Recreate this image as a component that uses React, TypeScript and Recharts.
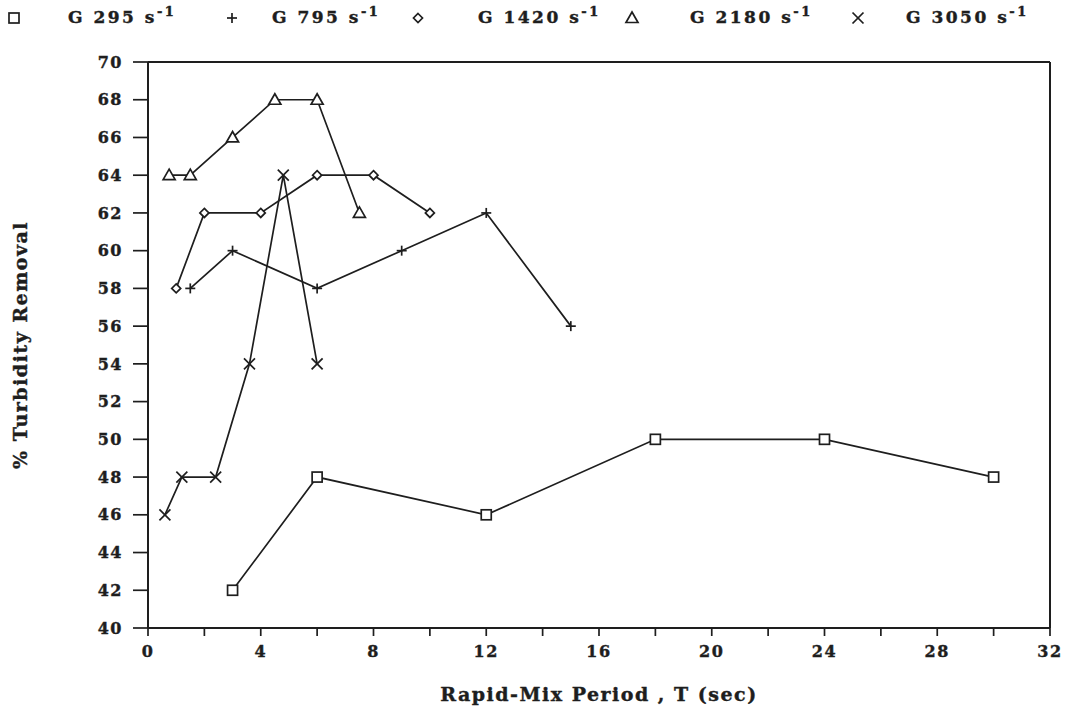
import React from 'react';
import { LineChart, Line, XAxis, YAxis, ReferenceLine } from 'recharts';

const T_295 = [3, 6, 12, 18, 24, 30];
const V_295 = [42, 48, 46, 50, 50, 48];
const T_795 = [1.5, 3, 6, 9, 12, 15];
const V_795 = [58, 60, 58, 60, 62, 56];
const T_1420 = [1, 2, 4, 6, 8, 10];
const V_1420 = [58, 62, 62, 64, 64, 62];
const T_2180 = [0.75, 1.5, 3, 4.5, 6, 7.5];
const V_2180 = [64, 64, 66, 68, 68, 62];
const T_3050 = [0.6, 1.2, 2.4, 3.6, 4.8, 6];
const V_3050 = [46, 48, 48, 54, 64, 54];

const X_TICKS = [0, 2, 4, 6, 8, 10, 12, 14, 16, 18, 20, 22, 24, 26, 28, 30, 32];
const Y_TICKS = [40, 42, 44, 46, 48, 50, 52, 54, 56, 58, 60, 62, 64, 66, 68, 70];
const LEGEND_LABELS = ['G 295', 'G 795', 'G 1420', 'G 2180', 'G 3050'];

const zip = (t: number[], v: number[]) => t.map((x, i) => ({ x, y: v[i] }));
const D_295 = zip(T_295, V_295);
const D_795 = zip(T_795, V_795);
const D_1420 = zip(T_1420, V_1420);
const D_2180 = zip(T_2180, V_2180);
const D_3050 = zip(T_3050, V_3050);

const INK = '#1e1e1e';
const FONT = '"DejaVu Serif", serif';

type ShapeKind = 'square' | 'plus' | 'diamond' | 'triangle' | 'cross';

const Marker = ({ kind, cx, cy }: { kind: ShapeKind; cx: number; cy: number }) => {
  const sw = 1.7;
  if (kind === 'square')
    return <rect x={cx - 5} y={cy - 5} width={10} height={10} fill="#fff" stroke={INK} strokeWidth={sw} />;
  if (kind === 'plus')
    return (
      <g stroke={INK} strokeWidth={sw}>
        <line x1={cx - 5} y1={cy} x2={cx + 5} y2={cy} />
        <line x1={cx} y1={cy - 5} x2={cx} y2={cy + 5} />
      </g>
    );
  if (kind === 'diamond')
    return (
      <polygon
        points={`${cx},${cy - 4.5} ${cx + 4.5},${cy} ${cx},${cy + 4.5} ${cx - 4.5},${cy}`}
        fill="#fff"
        stroke={INK}
        strokeWidth={sw}
      />
    );
  if (kind === 'triangle')
    return (
      <polygon
        points={`${cx},${cy - 6} ${cx + 6},${cy + 4.5} ${cx - 6},${cy + 4.5}`}
        fill="#fff"
        stroke={INK}
        strokeWidth={sw}
      />
    );
  return (
    <g stroke={INK} strokeWidth={sw}>
      <line x1={cx - 5.5} y1={cy - 5.5} x2={cx + 5.5} y2={cy + 5.5} />
      <line x1={cx - 5.5} y1={cy + 5.5} x2={cx + 5.5} y2={cy - 5.5} />
    </g>
  );
};

const makeDot = (kind: ShapeKind) => (props: any) => {
  const { cx, cy, index } = props;
  return <Marker key={`${kind}-${index}`} kind={kind} cx={cx} cy={cy} />;
};

const KINDS: ShapeKind[] = ['square', 'plus', 'diamond', 'triangle', 'cross'];
const LEGEND_MARK_X = [14, 232, 418, 632, 858];
const LEGEND_TEXT_X = [68, 272, 478, 690, 906];

const LegendBlock = () => (
  <div style={{ position: 'absolute', left: 0, top: 0, width: 1071, height: 40 }}>
    {KINDS.map((k, i) => (
      <React.Fragment key={k}>
        <svg style={{ position: 'absolute', left: LEGEND_MARK_X[i] - 8, top: 10 }} width={16} height={16}>
          <Marker kind={k} cx={8} cy={8} />
        </svg>
        <span
          style={{
            position: 'absolute',
            left: LEGEND_TEXT_X[i],
            top: 6,
            fontFamily: FONT,
            fontWeight: 'bold',
            fontSize: 17,
            lineHeight: '22px',
            letterSpacing: 2.5,
            color: INK,
            whiteSpace: 'nowrap',
            WebkitTextStroke: '0.4px #1e1e1e',
          }}
        >
          {LEGEND_LABELS[i]} s<sup style={{ fontSize: 13, lineHeight: 0, verticalAlign: 'super' }}>-1</sup>
        </span>
      </React.Fragment>
    ))}
  </div>
);

const tickStyle = {
  fontFamily: FONT,
  fontWeight: 'bold' as const,
  fontSize: 16,
  fill: INK,
  letterSpacing: 1.5,
  stroke: INK,
  strokeWidth: 0.4,
};
const titleStyle = {
  fontFamily: FONT,
  fontWeight: 'bold' as const,
  fontSize: 19,
  fill: INK,
  letterSpacing: 1.5,
  stroke: INK,
  strokeWidth: 0.4,
};

export default function App() {
  return (
    <div style={{ position: 'absolute', left: 0, top: 0, width: 1071, height: 710, background: '#fff' }}>
      <LegendBlock />
      <div style={{ position: 'absolute', left: 0, top: 0 }}>
        <LineChart width={1071} height={710} margin={{ top: 62, right: 21, bottom: 0, left: 0 }}>
          <XAxis
            type="number"
            dataKey="x"
            domain={[0, 32]}
            ticks={X_TICKS}
            interval={0}
            tickFormatter={(v: number) => (v % 4 === 0 ? String(v) : '')}
            tick={tickStyle}
            tickLine={{ stroke: INK, strokeWidth: 1.7 }}
            axisLine={{ stroke: INK, strokeWidth: 2 }}
            tickSize={8}
            tickMargin={10}
            height={82}
            label={{
              value: 'Rapid-Mix Period , T (sec)',
              position: 'insideBottom',
              offset: 9,
              style: titleStyle,
            }}
          />
          <YAxis
            type="number"
            dataKey="y"
            domain={[40, 70]}
            ticks={Y_TICKS}
            interval={0}
            tick={tickStyle}
            tickLine={{ stroke: INK, strokeWidth: 1.7 }}
            axisLine={{ stroke: INK, strokeWidth: 2 }}
            tickSize={15}
            tickMargin={10}
            width={148}
            label={{
              value: '% Turbidity Removal',
              angle: -90,
              position: 'insideLeft',
              offset: 20,
              style: { ...titleStyle, textAnchor: 'middle' },
            }}
          />
          <ReferenceLine y={70} stroke={INK} strokeWidth={2} />
          <ReferenceLine x={32} stroke={INK} strokeWidth={2} />
          <Line data={D_295} dataKey="y" stroke={INK} strokeWidth={1.7} dot={makeDot('square')} isAnimationActive={false} />
          <Line data={D_795} dataKey="y" stroke={INK} strokeWidth={1.7} dot={makeDot('plus')} isAnimationActive={false} />
          <Line data={D_1420} dataKey="y" stroke={INK} strokeWidth={1.7} dot={makeDot('diamond')} isAnimationActive={false} />
          <Line data={D_2180} dataKey="y" stroke={INK} strokeWidth={1.7} dot={makeDot('triangle')} isAnimationActive={false} />
          <Line data={D_3050} dataKey="y" stroke={INK} strokeWidth={1.7} dot={makeDot('cross')} isAnimationActive={false} />
        </LineChart>
      </div>
    </div>
  );
}
